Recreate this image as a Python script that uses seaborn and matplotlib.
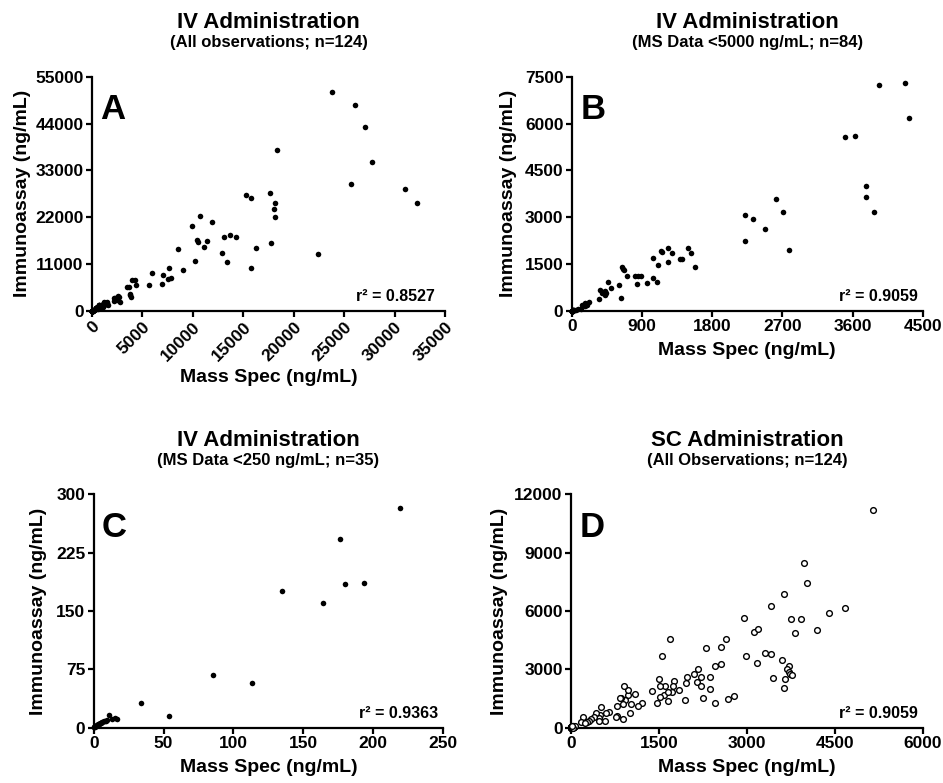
import numpy as np
import pandas as pd
import matplotlib
matplotlib.use('Agg')
import matplotlib.pyplot as plt
import seaborn as sns

# IV data, split by mass spec range (<250, 250-5000, >5000 ng/mL)
iv_low_ms = [219.0, 176.4, 179.9, 193.3, 134.4, 164.0, 85.3, 113.0, 33.8, 53.9,
             0.3, 0.5, 0.8, 1.0, 1.2, 1.5, 1.8, 2.0, 2.4, 2.8, 3.1, 3.5, 4.0,
             4.4, 5.0, 5.6, 6.2, 7.0, 7.8, 8.5, 9.6, 11.0, 12.8, 14.9, 16.5]
iv_low_ia = [282.9, 242.1, 185.1, 186.0, 175.3, 160.7, 67.3, 57.0, 31.7, 14.6,
             0.5, 1.0, 1.2, 1.8, 2.0, 2.5, 2.4, 3.0, 3.3, 3.8, 4.2, 4.5, 5.2,
             5.5, 6.0, 6.8, 7.5, 8.0, 8.6, 9.2, 9.8, 16.5, 11.0, 12.0, 11.5]

iv_mid_ms = [4274, 3936, 4329, 3500, 3637, 3778, 3778, 3872, 2624, 2709,
             2782, 2483, 2325, 2222, 2226, 1585, 1487, 1530, 1291, 1231,
             1158, 1140, 1239, 1038, 1103, 1419, 1390, 1038, 1090, 966,
             889, 855, 816, 833, 705, 667, 641, 655, 632, 611,
             504, 466, 423, 363, 385, 355, 427, 395, 440]
iv_mid_ia = [7297, 7222, 6175, 5566, 5598, 3996, 3654, 3162, 3590, 3162,
             1966, 2618, 2949, 3077, 2244, 1400, 2019, 1859, 1848, 2019,
             1870, 1920, 1571, 1709, 1474, 1656, 1650, 1047, 929, 897,
             1132, 1132, 1122, 855, 1122, 1303, 1400, 1350, 417, 844,
             737, 919, 652, 662, 566, 395, 513, 600, 560]

iv_high_ms = [23765, 26076, 27067, 18342, 27761, 25680, 31004, 32223, 17681, 18111,
              18044, 18177, 15239, 15765, 10708, 9946, 11930, 10378, 10543, 11370,
              11073, 13088, 13653, 14278, 17780, 16225, 8557, 12889, 13418, 15798,
              22441, 10212, 9023, 7668, 7833, 7503, 7040, 6974, 5916, 5685]
iv_high_ia = [51475, 48277, 43248, 37842, 34880, 29780, 28530, 25315, 27594, 25385,
              23975, 21953, 27124, 26560, 22258, 19980, 20919, 16618, 16076, 16453,
              14972, 17323, 17722, 17393, 15842, 14737, 14432, 13554, 11438, 10106,
              13319, 11752, 9715, 10028, 7678, 7521, 8461, 6346, 8853, 6033]

# SC data
sc_ms = [5151, 3972, 4023, 3630, 3419, 4672, 4399, 3761, 3932, 4188,
         3829, 3117, 3197, 2952, 2638, 2558, 2296, 1687, 1556, 2991,
         3180, 3316, 3413, 3595, 3726, 3681, 3721, 3744, 3772, 3447,
         3647, 3641, 2564, 2450, 2160, 2103, 2211, 2365, 1972, 1966,
         2142, 2217, 2370, 2251, 2450, 2672, 2775, 1943, 1840, 1761,
         1732, 1715, 1607, 1584, 1652, 1652, 1499, 1510, 1516, 1470,
         1390, 1208, 1140, 1100, 1031, 1014, 980, 974, 900, 929,
         895, 855, 838, 781, 786, 889, 775, 650, 604, 587,
         507, 490, 473, 427, 393, 348, 484, 313, 268, 199,
         177, 234,
         0, 0, 0, 2, 3, 5, 5, 8, 10, 12, 14, 15, 18, 20, 22, 25,
         27, 30, 33, 35, 38, 40, 42, 45, 48, 50, 55, 60, 10, 20, 30, 15]
sc_ia = [11195, 8469, 7458, 6858, 6258, 6138, 5880, 5606, 5589, 5023,
         4852, 4903, 5075, 5640, 4560, 4166, 4115, 4560, 3703, 3669,
         3343, 3857, 3789, 3497, 3189, 3034, 2880, 2743, 2692, 2554,
         2486, 2040, 3292, 3189, 3034, 2760, 2623, 2623, 2623, 2297,
         2349, 2160, 1989, 1543, 1269, 1474, 1612, 1423, 1920, 2400,
         2160, 1817, 2143, 1680, 1851, 1354, 2486, 2160, 1577, 1251,
         1903, 1251, 1114, 1731, 1217, 737, 1680, 1954, 2160, 1423,
         1217, 1543, 1509, 1131, 617, 446, 549, 823, 771, 360,
         1046, 634, 480, 737, 549, 429, 326, 360, 291, 566,
         274, 223,
         0, 10, 25, 5, 40, 15, 60, 20, 35, 50, 8, 70, 30, 45, 12, 55,
         80, 25, 40, 65, 18, 90, 50, 30, 75, 45, 60, 100, 0, 0, 5, 85]

x_label = 'Mass Spec (ng/mL)'
y_label = 'Immunoassay (ng/mL)'

sns.set_style('ticks')
plt.rcParams['font.family'] = ['Liberation Sans', 'DejaVu Sans']
plt.rcParams['font.weight'] = 'bold'
plt.rcParams['axes.labelweight'] = 'bold'
for key in ['text.color', 'axes.labelcolor', 'xtick.color', 'ytick.color',
            'axes.edgecolor']:
    plt.rcParams[key] = 'black'

iv_all = pd.DataFrame({'ms': iv_low_ms + iv_mid_ms + iv_high_ms,
                       'ia': iv_low_ia + iv_mid_ia + iv_high_ia})
iv_5000 = pd.DataFrame({'ms': iv_low_ms + iv_mid_ms, 'ia': iv_low_ia + iv_mid_ia})
iv_250 = pd.DataFrame({'ms': iv_low_ms, 'ia': iv_low_ia})
sc_all = pd.DataFrame({'ms': sc_ms, 'ia': sc_ia})

fig = plt.figure(figsize=(9.43, 7.83), dpi=100)

panels = [
    # data, rect, xmax, xstep, ymax, ystep, letter, title, subtitle, r2, open markers
    (iv_all, [0.0976, 0.603, 0.3743, 0.2989], 35000, 5000, 55000, 11000, 'A',
     'IV Administration', '(All observations; n=124)', '0.8527', False),
    (iv_5000, [0.6063, 0.603, 0.3722, 0.2989], 4500, 900, 7500, 1500, 'B',
     'IV Administration', '(MS Data <5000 ng/mL; n=84)', '0.9059', False),
    (iv_250, [0.0994, 0.0706, 0.3704, 0.2981], 250, 50, 300, 75, 'C',
     'IV Administration', '(MS Data <250 ng/mL; n=35)', '0.9363', False),
    (sc_all, [0.6055, 0.0706, 0.3730, 0.2981], 6000, 1500, 12000, 3000, 'D',
     'SC Administration', '(All Observations; n=124)', '0.9059', True),
]

for df, rect, xmax, xstep, ymax, ystep, letter, title, sub, r2, hollow in panels:
    ax = fig.add_axes(rect)
    if hollow:
        sns.scatterplot(data=df, x='ms', y='ia', ax=ax, s=17, marker='o',
                        facecolor='white', edgecolor='black', linewidth=1.0,
                        clip_on=False, zorder=3)
    else:
        sns.scatterplot(data=df, x='ms', y='ia', ax=ax, s=16, color='black',
                        edgecolor='black', linewidth=0, clip_on=False, zorder=3)
    ax.set_xlim(0, xmax)
    ax.set_ylim(0, ymax)
    ax.set_xticks(np.arange(0, xmax + 1, xstep))
    ax.set_yticks(np.arange(0, ymax + 1, ystep))
    sns.despine(ax=ax)
    for side in ['left', 'bottom']:
        ax.spines[side].set_linewidth(1.6)
    ax.tick_params(direction='out', length=4, width=1.6, labelsize=12.5, pad=2)
    for lab in ax.get_xticklabels() + ax.get_yticklabels():
        lab.set_fontweight('bold')
    if letter == 'A':
        plt.setp(ax.get_xticklabels(), rotation=45, ha='right',
                 rotation_mode='anchor')
        ax.xaxis.set_label_coords(0.5, -0.283)
    else:
        ax.xaxis.set_label_coords(0.5, -0.17)
    ax.set_xlabel(x_label, fontsize=14, fontweight='bold')
    ax.set_ylabel(y_label, fontsize=14, fontweight='bold')
    ax.xaxis.label.set_va('center')
    ax.yaxis.label.set_va('center')
    ylx = {'A': -0.198, 'B': -0.179, 'C': -0.157, 'D': -0.202}[letter]
    ax.yaxis.set_label_coords(ylx, 0.5)

    ax.text(0.5, 1.23, title, transform=ax.transAxes, ha='center', va='center',
            fontsize=16, fontweight='bold')
    ax.text(0.5, 1.145, sub, transform=ax.transAxes, ha='center', va='center',
            fontsize=12, fontweight='bold')
    ax.text(0.024, 0.93, letter, transform=ax.transAxes, ha='left', va='top',
            fontsize=25, fontweight='bold')
    rx = 0.972 if letter == 'A' else 0.987
    ax.text(rx, 0.04, 'r\u00b2 = ' + r2, transform=ax.transAxes, ha='right',
            va='baseline', fontsize=11.5, fontweight='bold')

fig.savefig('out.png', dpi=100)
